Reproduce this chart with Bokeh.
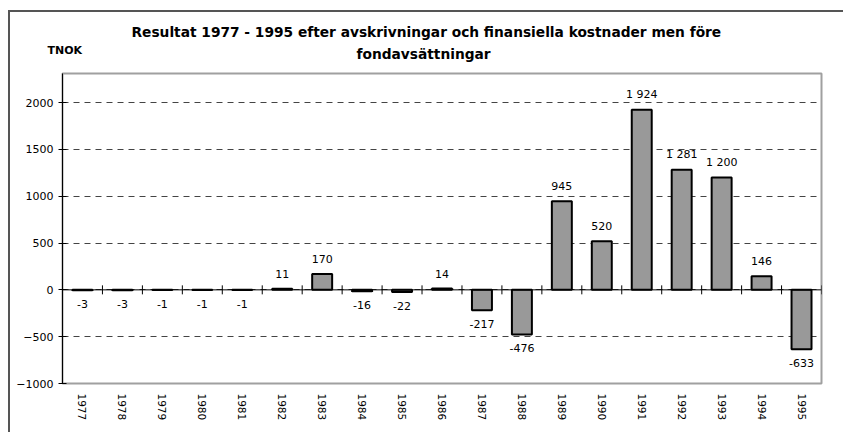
import numpy as np
from bokeh.plotting import figure
from bokeh.models import (FactorRange, Range1d, Span, Title, SingleIntervalTicker, ColumnDataSource)
from bokeh.core.properties import value
from bokeh.embed import file_html
from bokeh.resources import INLINE

years = [str(y) for y in range(1977, 1996)]
results = [-3, -3, -1, -1, -1, 11, 170, -16, -22, 14, -217, -476, 945, 520, 1924, 1281, 1200, 146, -633]
title_line1 = "Resultat 1977 - 1995 efter avskrivningar och finansiella kostnader men före"
title_line2 = "fondavsättningar"
unit_label = "TNOK"

FONT = "DejaVu Sans"

vals = np.array(results)
labels = [f"{v:,}".replace(",", " ") for v in results]
src = ColumnDataSource(dict(x=years, top=results, label=labels,
                            yoff=np.where(vals >= 0, -15, 14)))

p = figure(x_range=FactorRange(*years), y_range=Range1d(-1000, 2310),
           width=835, height=422, output_backend="svg", toolbar_location=None,
           min_border_left=52, min_border_right=24, min_border_top=61, min_border_bottom=51)
p.title.visible = False
p.styles = {"border-left": "2px solid #555555", "border-top": "2px solid #555555",
            "margin-left": "8px", "margin-top": "10px"}
p.outline_line_color = "#a0a0a0"
p.outline_line_width = 2
p.background_fill_color = "white"

# grid
p.xgrid.grid_line_color = None
p.ygrid.ticker = SingleIntervalTicker(interval=500, num_minor_ticks=0)
p.ygrid.grid_line_color = "#444444"
p.ygrid.grid_line_dash = "6 5"
p.ygrid.grid_line_width = 1

# y axis
p.yaxis.ticker = SingleIntervalTicker(interval=500, num_minor_ticks=0)
p.yaxis.axis_line_color = "black"
p.yaxis.major_tick_in = 4
p.yaxis.major_tick_out = 4
p.yaxis.minor_tick_line_color = None
p.yaxis.major_label_text_font = FONT
p.yaxis.major_label_text_font_size = "11px"
p.yaxis.major_label_text_color = "black"
p.yaxis.major_label_standoff = 5

# x axis
p.xaxis.axis_line_color = None
p.xaxis.major_tick_line_color = None
p.xaxis.major_tick_in = 0
p.xaxis.major_tick_out = 0
p.xaxis.minor_tick_line_color = None
p.xaxis.major_label_orientation = "vertical"
p.xaxis.major_label_text_font = FONT
p.xaxis.major_label_text_font_size = "10.5px"
p.xaxis.major_label_text_color = "black"
p.xaxis.major_label_standoff = 10

# bars
p.vbar(x="x", top="top", bottom=0, width=0.5, source=src,
       fill_color="#999999", line_color="black", line_width=2)

# zero line with category boundary ticks
p.add_layout(Span(location=0, dimension="width", line_color="black", line_width=1))
bounds = [(y, -0.5) for y in years] + [(years[-1], 0.5)]
p.scatter(x=bounds, y=[0] * len(bounds), marker="dash", angle=np.pi / 2, size=9,
          line_color="black", line_width=1)

# value labels
p.text(x="x", y="top", text="label", source=src, y_offset="yoff",
       text_align="center", text_baseline="middle",
       text_font=value(FONT), text_font_size="11px", text_color="black")

# titles and unit label (stacked in the top panel; negative standoffs let them overlap)
p.add_layout(Title(text=title_line2, align="left", offset=294, standoff=17.6,
                   vertical_align="top", text_color="black",
                   text_font=FONT, text_font_style="bold", text_font_size="13.75px"), "above")
p.add_layout(Title(text=title_line1, align="left", offset=69, standoff=-5.6,
                   vertical_align="bottom", text_color="black",
                   text_font=FONT, text_font_style="bold", text_font_size="13.75px"), "above")
p.add_layout(Title(text=unit_label, align="left", offset=-15, standoff=-63.8,
                   vertical_align="bottom", text_color="black",
                   text_font=FONT, text_font_style="bold", text_font_size="11px"), "above")

open("out.html", "w").write(file_html(p, INLINE))
